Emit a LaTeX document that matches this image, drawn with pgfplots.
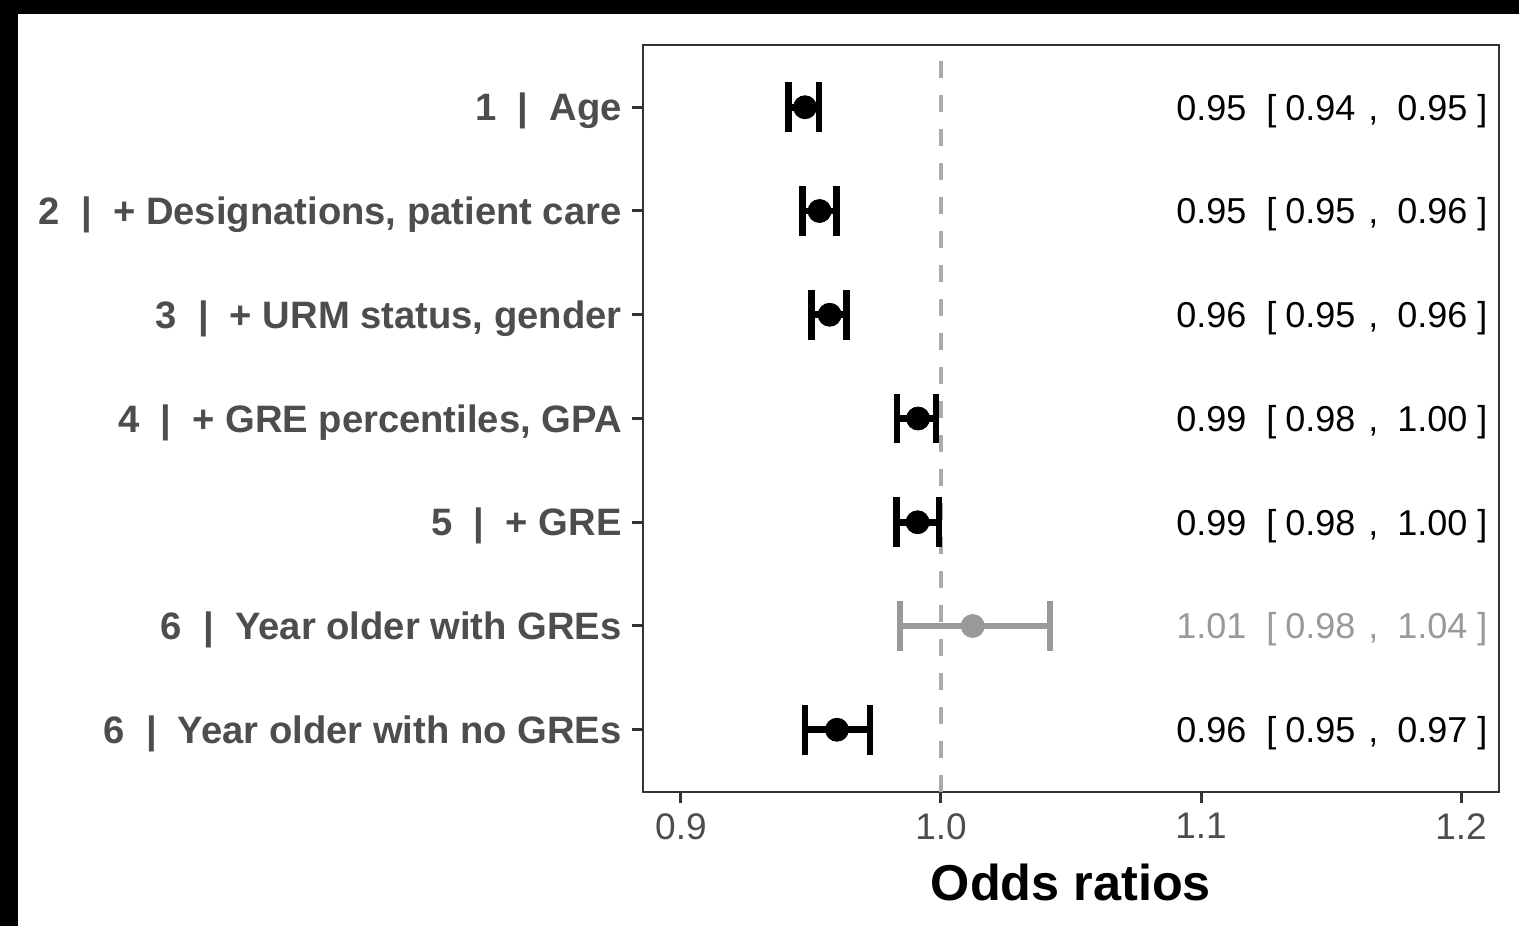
\documentclass[border=0pt]{standalone}
\usepackage{pgfplots}
\usepackage{pgfplotstable}
\pgfplotsset{compat=1.18}
\usepackage{fontspec}
\setmainfont{Liberation Sans}

\definecolor{g30}{HTML}{4D4D4D}
\definecolor{g20}{HTML}{333333}
\definecolor{g60}{HTML}{999999}
\definecolor{refline}{HTML}{ABABAB}

% odds ratio estimates with 95% confidence limits (row 7 = top)
\pgfplotstableread{
y pt lo hi
7 0.9477 0.9413 0.9531
6 0.9533 0.9467 0.9599
5 0.9572 0.9503 0.9637
4 0.9912 0.9831 0.9981
3 0.9910 0.9830 0.9992
1 0.9600 0.9477 0.9727
}\sigrows
\pgfplotstableread{
y pt lo hi
2 1.0122 0.9842 1.0419
}\nsrows

% estimate [lower, upper] columns at the right of the panel
\newcommand{\cilabel}[5]{%
  \node[anchor=base west, inner sep=0pt, text=#2, font=\fontsize{18bp}{20bp}\selectfont,
        yshift=-6.4bp] at (axis cs:1.0904,#1)
  {\makebox[45bp][l]{#3}\makebox[9.5bp][l]{[}\makebox[41.5bp][l]{#4}\makebox[14.5bp][l]{,}\makebox[40bp][l]{#5}]};%
}

\begin{document}
\begin{tikzpicture}
\useasboundingbox (0,0) rectangle (759.5bp,463bp);
\fill[black] (0,0) rectangle (759.5bp,463bp);
\fill[white] (9bp,0) rectangle (759.5bp,456bp);
\begin{axis}[
  at={(321.5bp,67bp)}, anchor=south west,
  scale only axis, width=428bp, height=373.5bp,
  xmin=0.8854, xmax=1.2146, ymin=0.4, ymax=7.6,
  clip=false,
  xtick={0.9,1.0,1.1,1.2}, xticklabels={0.9,1.0,1.1,1.2},
  ytick={1,2,3,4,5,6,7},
  yticklabels={{6\ \ |\ \ Year older with no GREs},{6\ \ |\ \ Year older with GREs},{5\ \ |\ \ + GRE},{4\ \ |\ \ + GRE percentiles, GPA},{3\ \ |\ \ + URM status, gender},{2\ \ |\ \ + Designations, patient care},{1\ \ |\ \ Age}},
  xtick pos=bottom, ytick pos=left, tick align=outside,
  major tick length=5.5bp,
  axis line style={g20, line width=1bp},
  tick style={g20, line width=1.5bp},
  xticklabel style={font=\fontsize{18.5bp}{20bp}\selectfont, text=g30, inner sep=0pt, anchor=north, yshift=-5bp},
  yticklabel style={font=\fontsize{19.1bp}{21bp}\selectfont\bfseries, text=g30, inner sep=0pt,
                    text height=13.7bp, text depth=0pt, anchor=east, xshift=-5bp},
]
\draw[refline, line width=2bp, dash pattern=on 8.5bp off 8.5bp] (axis cs:1,0.4) -- (axis cs:1,7.6);

\addplot[only marks, mark=*, mark size=5.75bp, black,
  error bars/.cd, x dir=both, x explicit,
  error bar style={line width=3.3bp, black},
  error mark options={rotate=90, line width=3.3bp, mark size=12.4bp, black}]
  table[x=pt, y=y, x error plus expr=\thisrow{hi}-\thisrow{pt}, x error minus expr=\thisrow{pt}-\thisrow{lo}] {\sigrows};

\addplot[only marks, mark=*, mark size=5.75bp, g60,
  error bars/.cd, x dir=both, x explicit,
  error bar style={line width=3.3bp, g60},
  error mark options={rotate=90, line width=3.3bp, mark size=12.4bp, g60}]
  table[x=pt, y=y, x error plus expr=\thisrow{hi}-\thisrow{pt}, x error minus expr=\thisrow{pt}-\thisrow{lo}] {\nsrows};

\cilabel{7}{black}{0.95}{0.94}{0.95}
\cilabel{6}{black}{0.95}{0.95}{0.96}
\cilabel{5}{black}{0.96}{0.95}{0.96}
\cilabel{4}{black}{0.99}{0.98}{1.00}
\cilabel{3}{black}{0.99}{0.98}{1.00}
\cilabel{2}{g60}{1.01}{0.98}{1.04}
\cilabel{1}{black}{0.96}{0.95}{0.97}

\node[anchor=base, inner sep=0pt, font=\fontsize{25.2bp}{28bp}\selectfont\bfseries, yshift=-54bp]
  at (rel axis cs:0.5,0) {Odds ratios};
\end{axis}
\end{tikzpicture}
\end{document}
